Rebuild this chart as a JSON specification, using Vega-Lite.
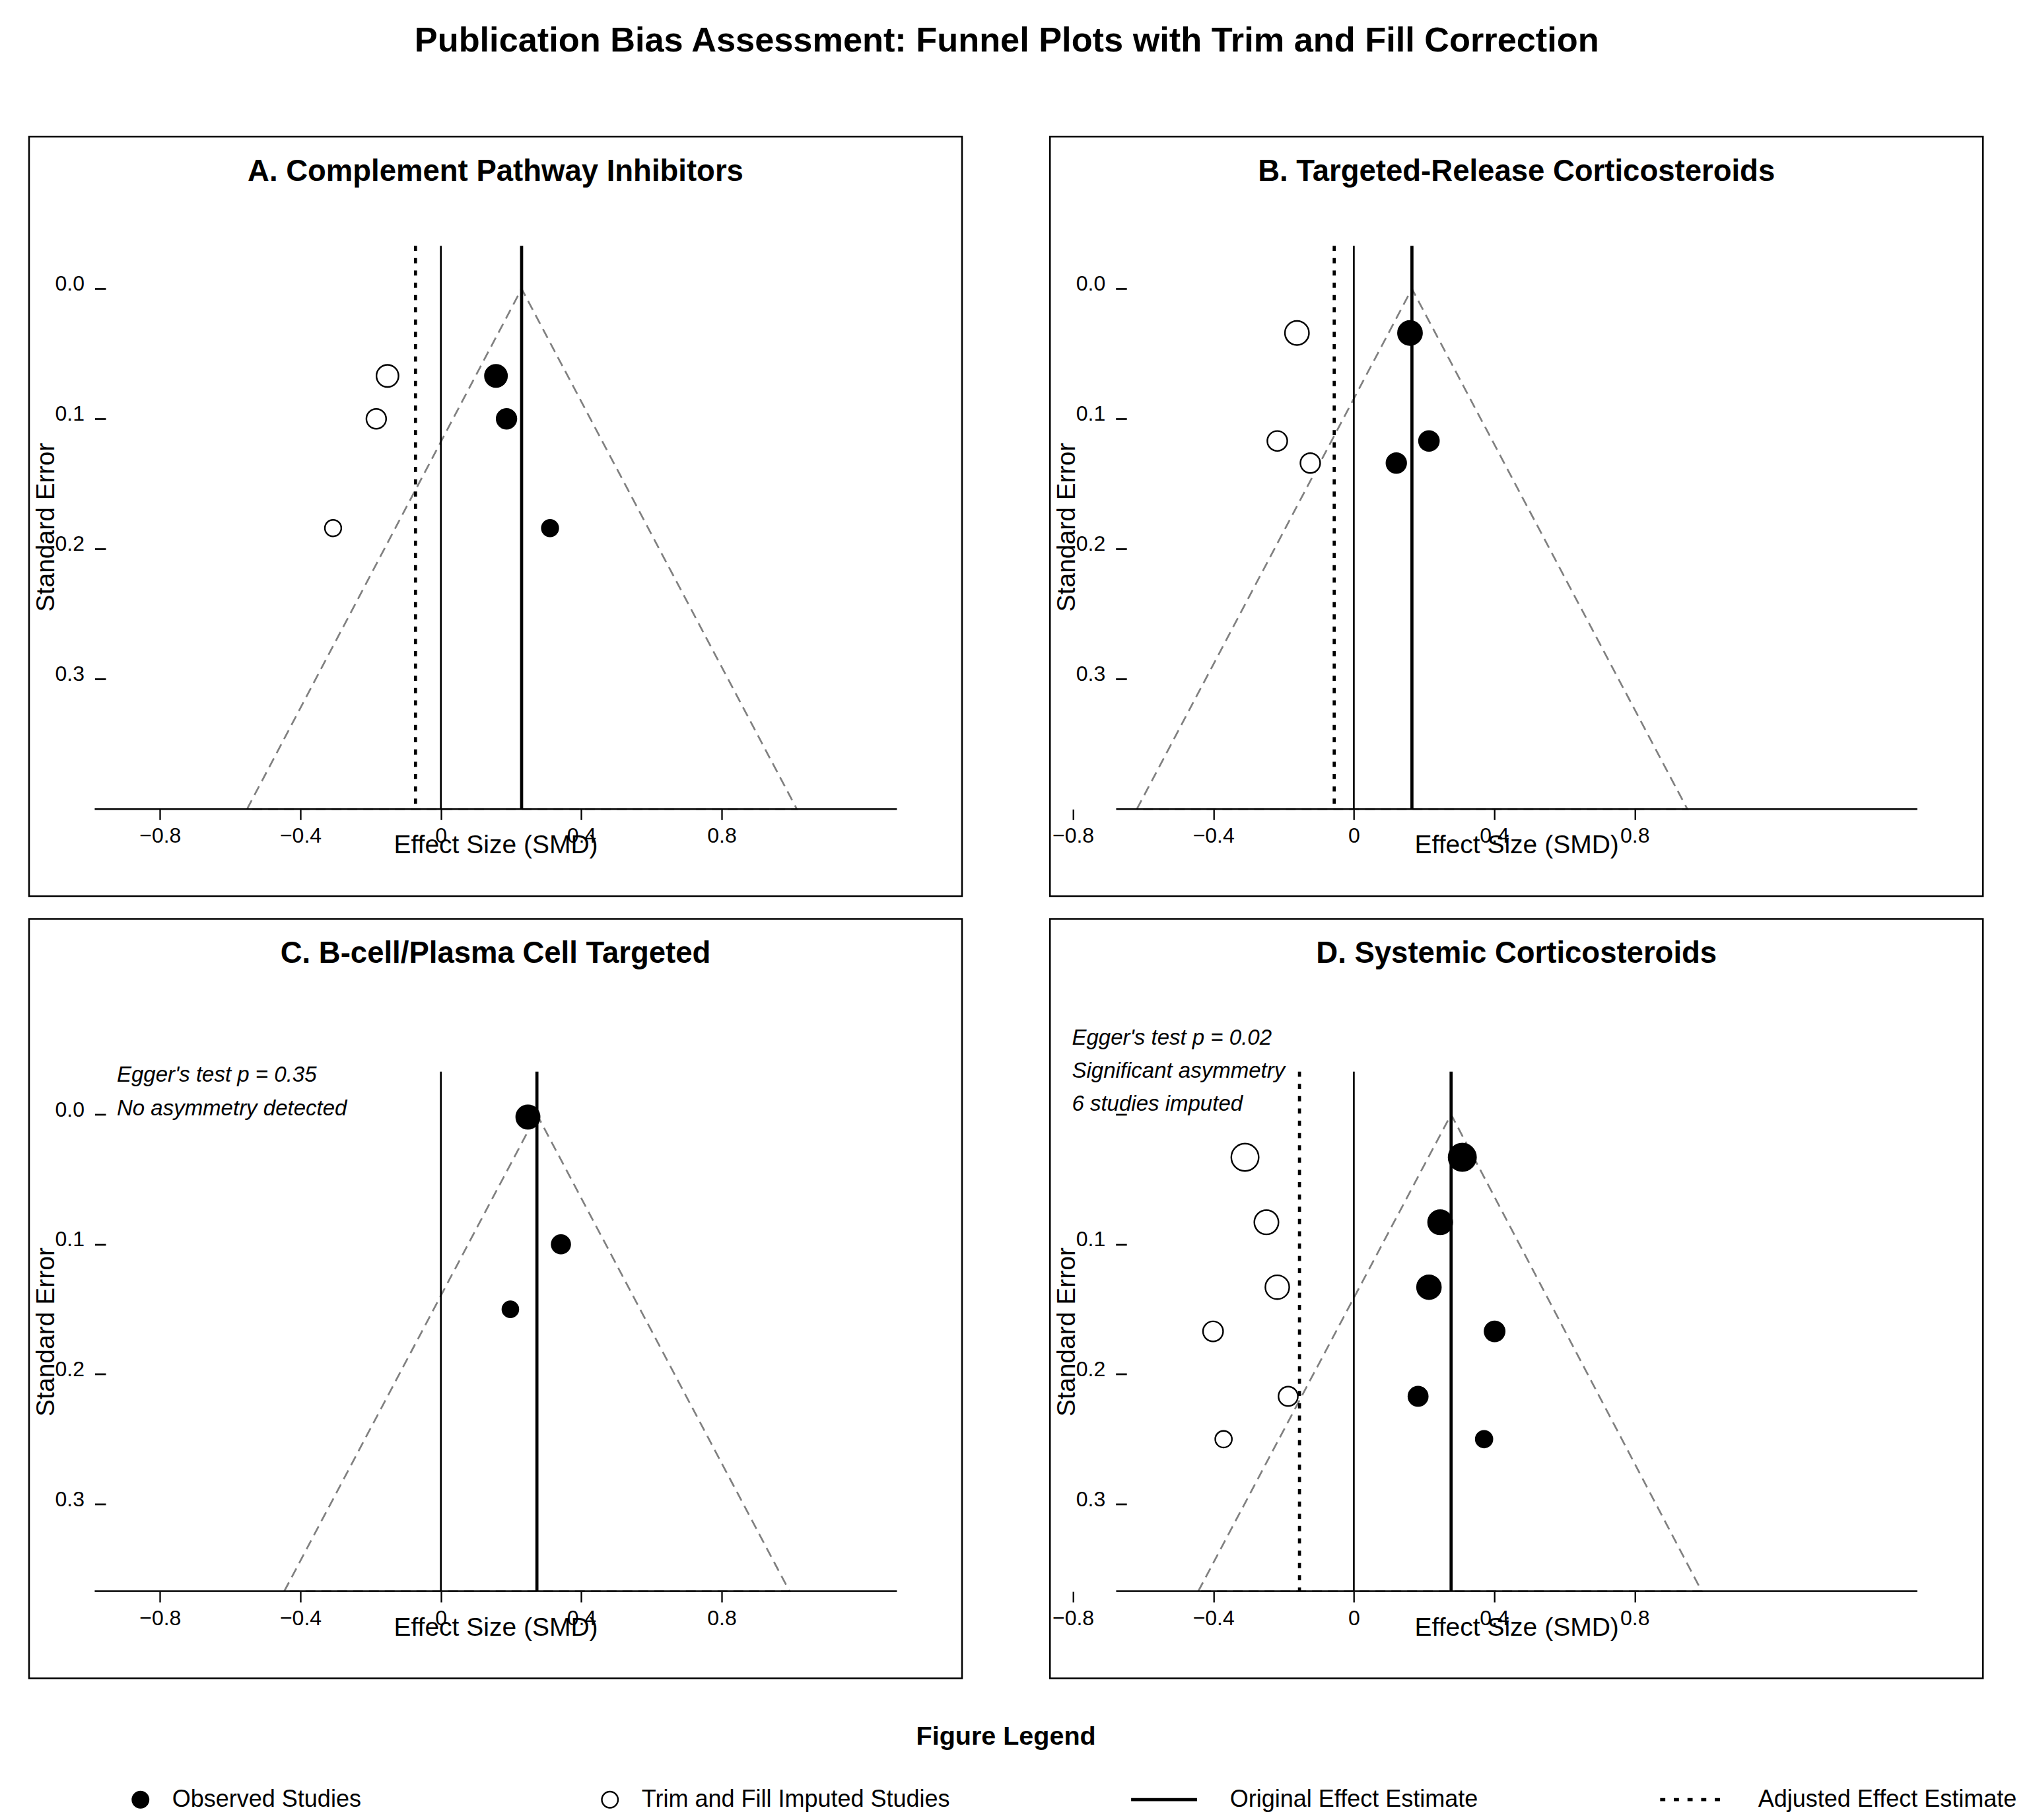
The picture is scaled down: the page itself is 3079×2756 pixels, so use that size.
{
  "$schema": "https://vega.github.io/schema/vega-lite/v6.json",
  "padding": {"left": 42, "top": 36, "right": 0, "bottom": 0},
  "background": "white",
  "title": {"text": "Publication Bias Assessment: Funnel Plots with Trim and Fill Correction", "anchor": "middle", "frame": "bounds", "offset": 75.15, "baseline": "alphabetic", "font": "Liberation Sans", "fontSize": 52.3, "fontWeight": "bold", "color": "black", "dx": -24},
  "datasets": {
    "points": [
      {"panel": "A", "type": "Observed Studies", "es": 0.157, "se": 0.067, "weight": 65},
      {"panel": "A", "type": "Observed Studies", "es": 0.187, "se": 0.100, "weight": 52},
      {"panel": "A", "type": "Observed Studies", "es": 0.311, "se": 0.184, "weight": 36},
      {"panel": "A", "type": "Trim and Fill Imputed Studies", "es": -0.152, "se": 0.067, "weight": 65},
      {"panel": "A", "type": "Trim and Fill Imputed Studies", "es": -0.184, "se": 0.100, "weight": 52},
      {"panel": "A", "type": "Trim and Fill Imputed Studies", "es": -0.307, "se": 0.184, "weight": 36},
      {"panel": "B", "type": "Observed Studies", "es": 0.160, "se": 0.034, "weight": 77},
      {"panel": "B", "type": "Observed Studies", "es": 0.214, "se": 0.117, "weight": 53},
      {"panel": "B", "type": "Observed Studies", "es": 0.121, "se": 0.134, "weight": 52},
      {"panel": "B", "type": "Trim and Fill Imputed Studies", "es": -0.162, "se": 0.034, "weight": 77},
      {"panel": "B", "type": "Trim and Fill Imputed Studies", "es": -0.218, "se": 0.117, "weight": 53},
      {"panel": "B", "type": "Trim and Fill Imputed Studies", "es": -0.124, "se": 0.134, "weight": 52},
      {"panel": "C", "type": "Observed Studies", "es": 0.248, "se": 0.002, "weight": 73},
      {"panel": "C", "type": "Observed Studies", "es": 0.342, "se": 0.100, "weight": 46},
      {"panel": "C", "type": "Observed Studies", "es": 0.198, "se": 0.150, "weight": 34},
      {"panel": "D", "type": "Observed Studies", "es": 0.309, "se": 0.033, "weight": 100},
      {"panel": "D", "type": "Observed Studies", "es": 0.246, "se": 0.083, "weight": 78},
      {"panel": "D", "type": "Observed Studies", "es": 0.214, "se": 0.133, "weight": 76},
      {"panel": "D", "type": "Observed Studies", "es": 0.401, "se": 0.167, "weight": 54},
      {"panel": "D", "type": "Observed Studies", "es": 0.183, "se": 0.217, "weight": 50},
      {"panel": "D", "type": "Observed Studies", "es": 0.371, "se": 0.250, "weight": 37},
      {"panel": "D", "type": "Trim and Fill Imputed Studies", "es": -0.310, "se": 0.033, "weight": 100},
      {"panel": "D", "type": "Trim and Fill Imputed Studies", "es": -0.249, "se": 0.083, "weight": 78},
      {"panel": "D", "type": "Trim and Fill Imputed Studies", "es": -0.218, "se": 0.133, "weight": 76},
      {"panel": "D", "type": "Trim and Fill Imputed Studies", "es": -0.401, "se": 0.167, "weight": 54},
      {"panel": "D", "type": "Trim and Fill Imputed Studies", "es": -0.187, "se": 0.217, "weight": 50},
      {"panel": "D", "type": "Trim and Fill Imputed Studies", "es": -0.371, "se": 0.250, "weight": 37}
    ],
    "estimates": [
      {"panel": "A", "type": "Null Effect", "es": 0, "se_top": -0.033, "se_bottom": 0.4},
      {"panel": "A", "type": "Original Effect Estimate", "es": 0.230, "se_top": -0.033, "se_bottom": 0.4},
      {"panel": "A", "type": "Adjusted Effect Estimate", "es": -0.0722, "se_top": -0.033, "se_bottom": 0.4},
      {"panel": "B", "type": "Null Effect", "es": 0, "se_top": -0.033, "se_bottom": 0.4},
      {"panel": "B", "type": "Original Effect Estimate", "es": 0.1655, "se_top": -0.033, "se_bottom": 0.4},
      {"panel": "B", "type": "Adjusted Effect Estimate", "es": -0.0559, "se_top": -0.033, "se_bottom": 0.4},
      {"panel": "C", "type": "Null Effect", "es": 0, "se_top": -0.033, "se_bottom": 0.367},
      {"panel": "C", "type": "Original Effect Estimate", "es": 0.2736, "se_top": -0.033, "se_bottom": 0.367},
      {"panel": "D", "type": "Null Effect", "es": 0, "se_top": -0.033, "se_bottom": 0.367},
      {"panel": "D", "type": "Original Effect Estimate", "es": 0.2771, "se_top": -0.033, "se_bottom": 0.367},
      {"panel": "D", "type": "Adjusted Effect Estimate", "es": -0.1548, "se_top": -0.033, "se_bottom": 0.367}
    ],
    "baselines": [
      {"panel": "A", "es_min": -0.986, "es_max": 1.299, "se": 0.4},
      {"panel": "B", "es_min": -0.677, "es_max": 1.605, "se": 0.4},
      {"panel": "C", "es_min": -0.986, "es_max": 1.299, "se": 0.367},
      {"panel": "D", "es_min": -0.677, "es_max": 1.605, "se": 0.367}
    ],
    "notes": [
      {"panel": "C", "es": -0.923, "se": -0.0252, "label": ["Egger's test p = 0.35", "No asymmetry detected"]},
      {"panel": "D", "es": -0.803, "se": -0.0536, "label": ["Egger's test p = 0.02", "Significant asymmetry", "6 studies imputed"]}
    ],
    "funnel": [
      {"panel": "A", "vertex": 1, "es": -0.552, "se": 0.4},
      {"panel": "A", "vertex": 2, "es": 0.230, "se": 0.0},
      {"panel": "A", "vertex": 3, "es": 1.014, "se": 0.4},
      {"panel": "A", "vertex": 4, "es": -0.552, "se": 0.4},
      {"panel": "B", "vertex": 1, "es": -0.618, "se": 0.4},
      {"panel": "B", "vertex": 2, "es": 0.1655, "se": 0.0},
      {"panel": "B", "vertex": 3, "es": 0.950, "se": 0.4},
      {"panel": "B", "vertex": 4, "es": -0.618, "se": 0.4},
      {"panel": "C", "vertex": 1, "es": -0.446, "se": 0.367},
      {"panel": "C", "vertex": 2, "es": 0.2736, "se": 0.0},
      {"panel": "C", "vertex": 3, "es": 0.993, "se": 0.367},
      {"panel": "C", "vertex": 4, "es": -0.446, "se": 0.367},
      {"panel": "D", "vertex": 1, "es": -0.443, "se": 0.367},
      {"panel": "D", "vertex": 2, "es": 0.2771, "se": 0.0},
      {"panel": "D", "vertex": 3, "es": 0.991, "se": 0.367},
      {"panel": "D", "vertex": 4, "es": -0.443, "se": 0.367}
    ]
  },
  "spacing": 30.5,
  "vconcat": [
    {
      "spacing": 129.2,
      "hconcat": [
        {
          "width": 1413, "height": 1150,
          "title": {"text": "A. Complement Pathway Inhibitors", "anchor": "middle", "frame": "bounds", "orient": "top", "offset": -112.5, "baseline": "alphabetic", "font": "Liberation Sans", "fontSize": 45.5, "fontWeight": "bold", "color": "black"},
          "encoding": {
            "x": {"field": "es", "type": "quantitative", "scale": {"domain": [-1.173, 1.4845], "nice": false, "zero": false},
              "axis": {"orient": "bottom", "offset": -131.7, "domain": false, "grid": false, "values": [-0.8, -0.4, 0, 0.4, 0.8], "format": "~g", "ticks": true, "tickSize": 16, "tickWidth": 2.3, "tickColor": "black", "labelFont": "Liberation Sans", "labelFontSize": 32, "labelColor": "black", "labelBaseline": "alphabetic", "labelPadding": 34.6, "labelFlush": false, "labelOverlap": false, "title": "Effect Size (SMD)", "titleFont": "Liberation Sans", "titleFontSize": 39, "titleFontWeight": "normal", "titleColor": "black", "titleBaseline": "alphabetic", "titleY": 66, "titleAnchor": "middle"}},
            "y": {"field": "se", "type": "quantitative", "scale": {"domain": [-0.1169, 0.4669], "nice": false, "zero": false, "reverse": true},
              "axis": {"orient": "left", "offset": -116, "domain": false, "grid": false, "values": [0, 0.1, 0.2, 0.3], "format": ".1f", "ticks": true, "tickSize": 16.5, "tickWidth": 2.7, "tickColor": "black", "labelFont": "Liberation Sans", "labelFontSize": 32, "labelColor": "black", "labelBaseline": "alphabetic", "labelOffset": 2.7, "labelPadding": 16, "labelAlign": "right", "labelOverlap": false, "title": "Standard Error", "titleFont": "Liberation Sans", "titleFontSize": 39, "titleFontWeight": "normal", "titleColor": "black", "titleAngle": 270, "titleBaseline": "alphabetic", "titleAlign": "center", "titleX": -79, "titleY": 591}}
          },
          "layer": [
            {"data": {"name": "funnel"}, "transform": [{"filter": "datum.panel === 'A'"}], "mark": {"type": "line", "color": "#808080", "strokeWidth": 2.7, "strokeDash": [15, 9]}, "encoding": {"order": {"field": "vertex", "type": "quantitative"}}},
            {"data": {"name": "estimates"}, "transform": [{"filter": "datum.panel === 'A' && datum.type === 'Null Effect'"}], "mark": {"type": "rule", "color": "black", "strokeWidth": 2.7}, "encoding": {"y": {"field": "se_top", "type": "quantitative"}, "y2": {"field": "se_bottom"}}},
            {"data": {"name": "estimates"}, "transform": [{"filter": "datum.panel === 'A' && datum.type !== 'Null Effect'"}], "mark": {"type": "rule", "color": "black", "strokeWidth": 4.7}, "encoding": {"y": {"field": "se_top", "type": "quantitative"}, "y2": {"field": "se_bottom"}, "strokeDash": {"field": "type", "type": "nominal", "scale": {"domain": ["Original Effect Estimate", "Adjusted Effect Estimate"], "range": [[1, 0], [7.8, 10.8]]}, "legend": null}}},
            {"data": {"name": "baselines"}, "transform": [{"filter": "datum.panel === 'A'"}], "mark": {"type": "rule", "color": "black", "strokeWidth": 2.5}, "encoding": {"x": {"field": "es_min", "type": "quantitative"}, "x2": {"field": "es_max"}, "y": {"field": "se", "type": "quantitative"}}},
            {"data": {"name": "points"}, "transform": [{"filter": "datum.panel === 'A'"}], "mark": {"type": "point", "filled": true, "stroke": "black", "strokeWidth": 2.4, "opacity": 1},
              "encoding": {
                "fill": {"field": "type", "type": "nominal", "scale": {"domain": ["Observed Studies", "Trim and Fill Imputed Studies", "Original Effect Estimate", "Adjusted Effect Estimate"], "range": ["black", "white", "black", "black"]},
                  "legend": {"title": null, "orient": "none", "legendX": 150.75, "legendY": 2500.2, "direction": "horizontal", "padding": 0, "columnPadding": 270, "labelFont": "Liberation Sans", "labelFontSize": 36, "labelColor": "black", "labelLimit": 2000, "labelOffset": 30, "symbolSize": 600, "symbolStrokeWidth": 2.4, "symbolStrokeColor": "black", "symbolFillColor": "black"}},
                "shape": {"field": "type", "type": "nominal", "scale": {"domain": ["Observed Studies", "Trim and Fill Imputed Studies", "Original Effect Estimate", "Adjusted Effect Estimate"], "range": ["M-8.2,0M1,0A1,1,0,1,1,-1,0A1,1,0,1,1,1,0Z", "M-8.2,0M1,0A1,1,0,1,1,-1,0A1,1,0,1,1,1,0Z", "M-8.2,-0.094L-0.25,-0.094L-0.25,0.094L-8.2,0.094Z", "M-8.2,0M-8.102,-0.094L-7.661,-0.094L-7.661,0.094L-8.102,0.094ZM-6.412,-0.094L-5.971,-0.094L-5.971,0.094L-6.412,0.094ZM-4.722,-0.094L-4.281,-0.094L-4.281,0.094L-4.722,0.094ZM-3.032,-0.094L-2.591,-0.094L-2.591,0.094L-3.032,0.094ZM-1.342,-0.094L-0.901,-0.094L-0.901,0.094L-1.342,0.094Z"]},
                  "legend": {"title": null, "orient": "none", "legendX": 150.75, "legendY": 2500.2, "direction": "horizontal", "padding": 0, "columnPadding": 270, "labelFont": "Liberation Sans", "labelFontSize": 36, "labelColor": "black", "labelLimit": 2000, "labelOffset": 30, "symbolSize": 600, "symbolStrokeWidth": 2.4, "symbolStrokeColor": "black", "symbolFillColor": "black"}},
                "size": {"field": "weight", "type": "quantitative", "scale": {"domain": [0, 100], "range": [0, 1722], "zero": true}, "legend": null}
              }}
          ]
        },
        {
          "width": 1413, "height": 1150,
          "title": {"text": "B. Targeted-Release Corticosteroids", "anchor": "middle", "frame": "bounds", "orient": "top", "offset": -112.5, "baseline": "alphabetic", "font": "Liberation Sans", "fontSize": 45.5, "fontWeight": "bold", "color": "black"},
          "encoding": {
            "x": {"field": "es", "type": "quantitative", "scale": {"domain": [-0.8655, 1.792], "nice": false, "zero": false},
              "axis": {"orient": "bottom", "offset": -131.7, "domain": false, "grid": false, "values": [-0.8, -0.4, 0, 0.4, 0.8], "format": "~g", "ticks": true, "tickSize": 16, "tickWidth": 2.3, "tickColor": "black", "labelFont": "Liberation Sans", "labelFontSize": 32, "labelColor": "black", "labelBaseline": "alphabetic", "labelPadding": 34.6, "labelFlush": false, "labelOverlap": false, "title": "Effect Size (SMD)", "titleFont": "Liberation Sans", "titleFontSize": 39, "titleFontWeight": "normal", "titleColor": "black", "titleBaseline": "alphabetic", "titleY": 66, "titleAnchor": "middle"}},
            "y": {"field": "se", "type": "quantitative", "scale": {"domain": [-0.1169, 0.4669], "nice": false, "zero": false, "reverse": true},
              "axis": {"orient": "left", "offset": -116, "domain": false, "grid": false, "values": [0, 0.1, 0.2, 0.3], "format": ".1f", "ticks": true, "tickSize": 16.5, "tickWidth": 2.7, "tickColor": "black", "labelFont": "Liberation Sans", "labelFontSize": 32, "labelColor": "black", "labelBaseline": "alphabetic", "labelOffset": 2.7, "labelPadding": 16, "labelAlign": "right", "labelOverlap": false, "title": "Standard Error", "titleFont": "Liberation Sans", "titleFontSize": 39, "titleFontWeight": "normal", "titleColor": "black", "titleAngle": 270, "titleBaseline": "alphabetic", "titleAlign": "center", "titleX": -79, "titleY": 591}}
          },
          "layer": [
            {"data": {"name": "funnel"}, "transform": [{"filter": "datum.panel === 'B'"}], "mark": {"type": "line", "color": "#808080", "strokeWidth": 2.7, "strokeDash": [15, 9]}, "encoding": {"order": {"field": "vertex", "type": "quantitative"}}},
            {"data": {"name": "estimates"}, "transform": [{"filter": "datum.panel === 'B' && datum.type === 'Null Effect'"}], "mark": {"type": "rule", "color": "black", "strokeWidth": 2.7}, "encoding": {"y": {"field": "se_top", "type": "quantitative"}, "y2": {"field": "se_bottom"}}},
            {"data": {"name": "estimates"}, "transform": [{"filter": "datum.panel === 'B' && datum.type !== 'Null Effect'"}], "mark": {"type": "rule", "color": "black", "strokeWidth": 4.7}, "encoding": {"y": {"field": "se_top", "type": "quantitative"}, "y2": {"field": "se_bottom"}, "strokeDash": {"field": "type", "type": "nominal", "scale": {"domain": ["Original Effect Estimate", "Adjusted Effect Estimate"], "range": [[1, 0], [7.8, 10.8]]}, "legend": null}}},
            {"data": {"name": "baselines"}, "transform": [{"filter": "datum.panel === 'B'"}], "mark": {"type": "rule", "color": "black", "strokeWidth": 2.5}, "encoding": {"x": {"field": "es_min", "type": "quantitative"}, "x2": {"field": "es_max"}, "y": {"field": "se", "type": "quantitative"}}},
            {"data": {"name": "points"}, "transform": [{"filter": "datum.panel === 'B'"}], "mark": {"type": "point", "filled": true, "stroke": "black", "strokeWidth": 2.4, "opacity": 1},
              "encoding": {
                "fill": {"field": "type", "type": "nominal", "scale": {"domain": ["Observed Studies", "Trim and Fill Imputed Studies", "Original Effect Estimate", "Adjusted Effect Estimate"], "range": ["black", "white", "black", "black"]},
                  "legend": {"title": null, "orient": "none", "legendX": 150.75, "legendY": 2500.2, "direction": "horizontal", "padding": 0, "columnPadding": 270, "labelFont": "Liberation Sans", "labelFontSize": 36, "labelColor": "black", "labelLimit": 2000, "labelOffset": 30, "symbolSize": 600, "symbolStrokeWidth": 2.4, "symbolStrokeColor": "black", "symbolFillColor": "black"}},
                "shape": {"field": "type", "type": "nominal", "scale": {"domain": ["Observed Studies", "Trim and Fill Imputed Studies", "Original Effect Estimate", "Adjusted Effect Estimate"], "range": ["M-8.2,0M1,0A1,1,0,1,1,-1,0A1,1,0,1,1,1,0Z", "M-8.2,0M1,0A1,1,0,1,1,-1,0A1,1,0,1,1,1,0Z", "M-8.2,-0.094L-0.25,-0.094L-0.25,0.094L-8.2,0.094Z", "M-8.2,0M-8.102,-0.094L-7.661,-0.094L-7.661,0.094L-8.102,0.094ZM-6.412,-0.094L-5.971,-0.094L-5.971,0.094L-6.412,0.094ZM-4.722,-0.094L-4.281,-0.094L-4.281,0.094L-4.722,0.094ZM-3.032,-0.094L-2.591,-0.094L-2.591,0.094L-3.032,0.094ZM-1.342,-0.094L-0.901,-0.094L-0.901,0.094L-1.342,0.094Z"]},
                  "legend": {"title": null, "orient": "none", "legendX": 150.75, "legendY": 2500.2, "direction": "horizontal", "padding": 0, "columnPadding": 270, "labelFont": "Liberation Sans", "labelFontSize": 36, "labelColor": "black", "labelLimit": 2000, "labelOffset": 30, "symbolSize": 600, "symbolStrokeWidth": 2.4, "symbolStrokeColor": "black", "symbolFillColor": "black"}},
                "size": {"field": "weight", "type": "quantitative", "scale": {"domain": [0, 100], "range": [0, 1722], "zero": true}, "legend": null}
              }}
          ]
        }
      ]
    },
    {
      "spacing": 129.2,
      "title": {"text": "Figure Legend", "orient": "bottom", "anchor": "middle", "frame": "bounds", "offset": 98.75, "baseline": "alphabetic", "font": "Liberation Sans", "fontSize": 39.5, "fontWeight": "bold", "color": "black"},
      "hconcat": [
        {
          "width": 1413, "height": 1150,
          "title": {"text": "C. B-cell/Plasma Cell Targeted", "anchor": "middle", "frame": "bounds", "orient": "top", "offset": -112, "baseline": "alphabetic", "font": "Liberation Sans", "fontSize": 45.5, "fontWeight": "bold", "color": "black"},
          "encoding": {
            "x": {"field": "es", "type": "quantitative", "scale": {"domain": [-1.173, 1.4845], "nice": false, "zero": false},
              "axis": {"orient": "bottom", "offset": -131.5, "domain": false, "grid": false, "values": [-0.8, -0.4, 0, 0.4, 0.8], "format": "~g", "ticks": true, "tickSize": 16, "tickWidth": 2.3, "tickColor": "black", "labelFont": "Liberation Sans", "labelFontSize": 32, "labelColor": "black", "labelBaseline": "alphabetic", "labelPadding": 34.6, "labelFlush": false, "labelOverlap": false, "title": "Effect Size (SMD)", "titleFont": "Liberation Sans", "titleFontSize": 39, "titleFontWeight": "normal", "titleColor": "black", "titleBaseline": "alphabetic", "titleY": 66, "titleAnchor": "middle"}},
            "y": {"field": "se", "type": "quantitative", "scale": {"domain": [-0.1505, 0.4341], "nice": false, "zero": false, "reverse": true},
              "axis": {"orient": "left", "offset": -116, "domain": false, "grid": false, "values": [0, 0.1, 0.2, 0.3], "format": ".1f", "ticks": true, "tickSize": 16.5, "tickWidth": 2.7, "tickColor": "black", "labelFont": "Liberation Sans", "labelFontSize": 32, "labelColor": "black", "labelBaseline": "alphabetic", "labelOffset": 2.7, "labelPadding": 16, "labelAlign": "right", "labelOverlap": false, "title": "Standard Error", "titleFont": "Liberation Sans", "titleFontSize": 39, "titleFontWeight": "normal", "titleColor": "black", "titleAngle": 270, "titleBaseline": "alphabetic", "titleAlign": "center", "titleX": -79, "titleY": 625}}
          },
          "layer": [
            {"data": {"name": "funnel"}, "transform": [{"filter": "datum.panel === 'C'"}], "mark": {"type": "line", "color": "#808080", "strokeWidth": 2.7, "strokeDash": [15, 9]}, "encoding": {"order": {"field": "vertex", "type": "quantitative"}}},
            {"data": {"name": "estimates"}, "transform": [{"filter": "datum.panel === 'C' && datum.type === 'Null Effect'"}], "mark": {"type": "rule", "color": "black", "strokeWidth": 2.7}, "encoding": {"y": {"field": "se_top", "type": "quantitative"}, "y2": {"field": "se_bottom"}}},
            {"data": {"name": "estimates"}, "transform": [{"filter": "datum.panel === 'C' && datum.type !== 'Null Effect'"}], "mark": {"type": "rule", "color": "black", "strokeWidth": 4.7}, "encoding": {"y": {"field": "se_top", "type": "quantitative"}, "y2": {"field": "se_bottom"}, "strokeDash": {"field": "type", "type": "nominal", "scale": {"domain": ["Original Effect Estimate", "Adjusted Effect Estimate"], "range": [[1, 0], [7.8, 10.8]]}, "legend": null}}},
            {"data": {"name": "baselines"}, "transform": [{"filter": "datum.panel === 'C'"}], "mark": {"type": "rule", "color": "black", "strokeWidth": 2.5}, "encoding": {"x": {"field": "es_min", "type": "quantitative"}, "x2": {"field": "es_max"}, "y": {"field": "se", "type": "quantitative"}}},
            {"data": {"name": "points"}, "transform": [{"filter": "datum.panel === 'C'"}], "mark": {"type": "point", "filled": true, "stroke": "black", "strokeWidth": 2.4, "opacity": 1},
              "encoding": {
                "fill": {"field": "type", "type": "nominal", "scale": {"domain": ["Observed Studies", "Trim and Fill Imputed Studies", "Original Effect Estimate", "Adjusted Effect Estimate"], "range": ["black", "white", "black", "black"]},
                  "legend": {"title": null, "orient": "none", "legendX": 150.75, "legendY": 2500.2, "direction": "horizontal", "padding": 0, "columnPadding": 270, "labelFont": "Liberation Sans", "labelFontSize": 36, "labelColor": "black", "labelLimit": 2000, "labelOffset": 30, "symbolSize": 600, "symbolStrokeWidth": 2.4, "symbolStrokeColor": "black", "symbolFillColor": "black"}},
                "shape": {"field": "type", "type": "nominal", "scale": {"domain": ["Observed Studies", "Trim and Fill Imputed Studies", "Original Effect Estimate", "Adjusted Effect Estimate"], "range": ["M-8.2,0M1,0A1,1,0,1,1,-1,0A1,1,0,1,1,1,0Z", "M-8.2,0M1,0A1,1,0,1,1,-1,0A1,1,0,1,1,1,0Z", "M-8.2,-0.094L-0.25,-0.094L-0.25,0.094L-8.2,0.094Z", "M-8.2,0M-8.102,-0.094L-7.661,-0.094L-7.661,0.094L-8.102,0.094ZM-6.412,-0.094L-5.971,-0.094L-5.971,0.094L-6.412,0.094ZM-4.722,-0.094L-4.281,-0.094L-4.281,0.094L-4.722,0.094ZM-3.032,-0.094L-2.591,-0.094L-2.591,0.094L-3.032,0.094ZM-1.342,-0.094L-0.901,-0.094L-0.901,0.094L-1.342,0.094Z"]},
                  "legend": {"title": null, "orient": "none", "legendX": 150.75, "legendY": 2500.2, "direction": "horizontal", "padding": 0, "columnPadding": 270, "labelFont": "Liberation Sans", "labelFontSize": 36, "labelColor": "black", "labelLimit": 2000, "labelOffset": 30, "symbolSize": 600, "symbolStrokeWidth": 2.4, "symbolStrokeColor": "black", "symbolFillColor": "black"}},
                "size": {"field": "weight", "type": "quantitative", "scale": {"domain": [0, 100], "range": [0, 1722], "zero": true}, "legend": null}
              }},
            {"data": {"name": "notes"}, "transform": [{"filter": "datum.panel === 'C'"}], "mark": {"type": "text", "align": "left", "baseline": "alphabetic", "lineHeight": 51, "font": "Liberation Sans", "fontSize": 33, "fontStyle": "italic", "color": "black"}, "encoding": {"text": {"field": "label", "type": "nominal"}}}
          ]
        },
        {
          "width": 1413, "height": 1150,
          "title": {"text": "D. Systemic Corticosteroids", "anchor": "middle", "frame": "bounds", "orient": "top", "offset": -112, "baseline": "alphabetic", "font": "Liberation Sans", "fontSize": 45.5, "fontWeight": "bold", "color": "black"},
          "encoding": {
            "x": {"field": "es", "type": "quantitative", "scale": {"domain": [-0.8655, 1.792], "nice": false, "zero": false},
              "axis": {"orient": "bottom", "offset": -131.5, "domain": false, "grid": false, "values": [-0.8, -0.4, 0, 0.4, 0.8], "format": "~g", "ticks": true, "tickSize": 16, "tickWidth": 2.3, "tickColor": "black", "labelFont": "Liberation Sans", "labelFontSize": 32, "labelColor": "black", "labelBaseline": "alphabetic", "labelPadding": 34.6, "labelFlush": false, "labelOverlap": false, "title": "Effect Size (SMD)", "titleFont": "Liberation Sans", "titleFontSize": 39, "titleFontWeight": "normal", "titleColor": "black", "titleBaseline": "alphabetic", "titleY": 66, "titleAnchor": "middle"}},
            "y": {"field": "se", "type": "quantitative", "scale": {"domain": [-0.1505, 0.4341], "nice": false, "zero": false, "reverse": true},
              "axis": {"orient": "left", "offset": -116, "domain": false, "grid": false, "values": [0, 0.1, 0.2, 0.3], "labelExpr": "datum.value == 0 ? '' : format(datum.value, '.1f')", "ticks": true, "tickSize": 16.5, "tickWidth": 2.7, "tickColor": "black", "labelFont": "Liberation Sans", "labelFontSize": 32, "labelColor": "black", "labelBaseline": "alphabetic", "labelOffset": 2.7, "labelPadding": 16, "labelAlign": "right", "labelOverlap": false, "title": "Standard Error", "titleFont": "Liberation Sans", "titleFontSize": 39, "titleFontWeight": "normal", "titleColor": "black", "titleAngle": 270, "titleBaseline": "alphabetic", "titleAlign": "center", "titleX": -79, "titleY": 625}}
          },
          "layer": [
            {"data": {"name": "funnel"}, "transform": [{"filter": "datum.panel === 'D'"}], "mark": {"type": "line", "color": "#808080", "strokeWidth": 2.7, "strokeDash": [15, 9]}, "encoding": {"order": {"field": "vertex", "type": "quantitative"}}},
            {"data": {"name": "estimates"}, "transform": [{"filter": "datum.panel === 'D' && datum.type === 'Null Effect'"}], "mark": {"type": "rule", "color": "black", "strokeWidth": 2.7}, "encoding": {"y": {"field": "se_top", "type": "quantitative"}, "y2": {"field": "se_bottom"}}},
            {"data": {"name": "estimates"}, "transform": [{"filter": "datum.panel === 'D' && datum.type !== 'Null Effect'"}], "mark": {"type": "rule", "color": "black", "strokeWidth": 4.7}, "encoding": {"y": {"field": "se_top", "type": "quantitative"}, "y2": {"field": "se_bottom"}, "strokeDash": {"field": "type", "type": "nominal", "scale": {"domain": ["Original Effect Estimate", "Adjusted Effect Estimate"], "range": [[1, 0], [7.8, 10.8]]}, "legend": null}}},
            {"data": {"name": "baselines"}, "transform": [{"filter": "datum.panel === 'D'"}], "mark": {"type": "rule", "color": "black", "strokeWidth": 2.5}, "encoding": {"x": {"field": "es_min", "type": "quantitative"}, "x2": {"field": "es_max"}, "y": {"field": "se", "type": "quantitative"}}},
            {"data": {"name": "points"}, "transform": [{"filter": "datum.panel === 'D'"}], "mark": {"type": "point", "filled": true, "stroke": "black", "strokeWidth": 2.4, "opacity": 1},
              "encoding": {
                "fill": {"field": "type", "type": "nominal", "scale": {"domain": ["Observed Studies", "Trim and Fill Imputed Studies", "Original Effect Estimate", "Adjusted Effect Estimate"], "range": ["black", "white", "black", "black"]},
                  "legend": {"title": null, "orient": "none", "legendX": 150.75, "legendY": 2500.2, "direction": "horizontal", "padding": 0, "columnPadding": 270, "labelFont": "Liberation Sans", "labelFontSize": 36, "labelColor": "black", "labelLimit": 2000, "labelOffset": 30, "symbolSize": 600, "symbolStrokeWidth": 2.4, "symbolStrokeColor": "black", "symbolFillColor": "black"}},
                "shape": {"field": "type", "type": "nominal", "scale": {"domain": ["Observed Studies", "Trim and Fill Imputed Studies", "Original Effect Estimate", "Adjusted Effect Estimate"], "range": ["M-8.2,0M1,0A1,1,0,1,1,-1,0A1,1,0,1,1,1,0Z", "M-8.2,0M1,0A1,1,0,1,1,-1,0A1,1,0,1,1,1,0Z", "M-8.2,-0.094L-0.25,-0.094L-0.25,0.094L-8.2,0.094Z", "M-8.2,0M-8.102,-0.094L-7.661,-0.094L-7.661,0.094L-8.102,0.094ZM-6.412,-0.094L-5.971,-0.094L-5.971,0.094L-6.412,0.094ZM-4.722,-0.094L-4.281,-0.094L-4.281,0.094L-4.722,0.094ZM-3.032,-0.094L-2.591,-0.094L-2.591,0.094L-3.032,0.094ZM-1.342,-0.094L-0.901,-0.094L-0.901,0.094L-1.342,0.094Z"]},
                  "legend": {"title": null, "orient": "none", "legendX": 150.75, "legendY": 2500.2, "direction": "horizontal", "padding": 0, "columnPadding": 270, "labelFont": "Liberation Sans", "labelFontSize": 36, "labelColor": "black", "labelLimit": 2000, "labelOffset": 30, "symbolSize": 600, "symbolStrokeWidth": 2.4, "symbolStrokeColor": "black", "symbolFillColor": "black"}},
                "size": {"field": "weight", "type": "quantitative", "scale": {"domain": [0, 100], "range": [0, 1722], "zero": true}, "legend": null}
              }},
            {"data": {"name": "notes"}, "transform": [{"filter": "datum.panel === 'D'"}], "mark": {"type": "text", "align": "left", "baseline": "alphabetic", "lineHeight": 50, "font": "Liberation Sans", "fontSize": 33, "fontStyle": "italic", "color": "black"}, "encoding": {"text": {"field": "label", "type": "nominal"}}}
          ]
        }
      ]
    }
  ],
  "config": {
    "font": "Liberation Sans",
    "view": {"stroke": "black", "strokeWidth": 2.5},
    "axis": {"grid": false}
  }
}
